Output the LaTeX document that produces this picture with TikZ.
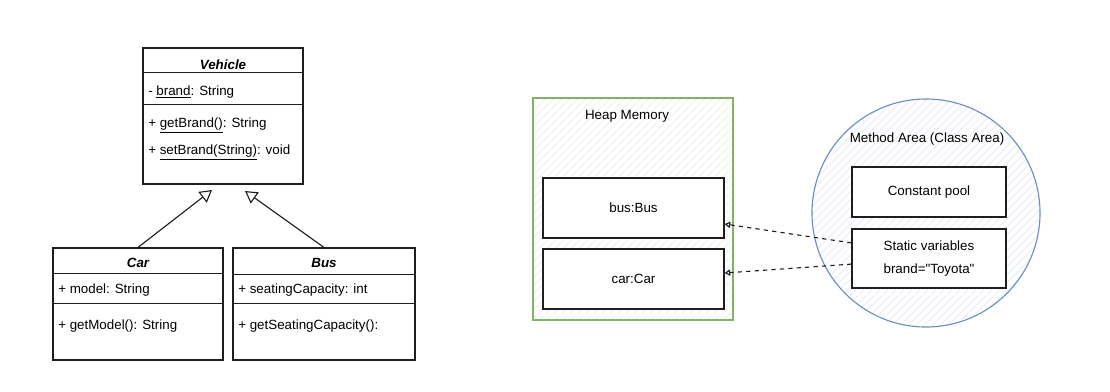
\documentclass[tikz,border=0pt]{standalone}
\usepackage{fontspec}
\setmainfont{Liberation Sans}
\usepackage{tikz}
\usetikzlibrary{arrows.meta,positioning,patterns.meta}
\definecolor{heapgreen}{RGB}{130,179,102}
\definecolor{hatchgreen}{RGB}{214,232,206}
\definecolor{areablue}{RGB}{108,142,191}
\definecolor{hatchblue}{RGB}{204,218,238}
\definecolor{inkgray}{RGB}{30,30,30}
\tikzset{
  classbox/.style={draw=inkgray, thick, fill=white, inner sep=0pt},
  classname/.style={font=\fontsize{9.5}{11}\selectfont\bfseries\itshape, inner sep=0pt},
  member/.style={anchor=west, font=\fontsize{9.5}{11}\selectfont, inner sep=0pt},
  objbox/.style={draw=inkgray, thick, fill=white, align=center,
                 font=\fontsize{9.5}{11}\selectfont},
  region/.style={thick, pattern={Lines[angle=45,distance=4pt,line width=0.45pt]}},
  regionlabel/.style={font=\fontsize{9.5}{11}\selectfont, inner sep=0pt},
  inherit/.style={-{Triangle[open,length=3mm,width=3.4mm]}, thick, draw=inkgray},
  ref/.style={-{Triangle[open,length=1.4mm,width=1.6mm]}, dashed, thick, draw=inkgray}
}
\begin{document}
\begin{tikzpicture}[x=0.025cm, y=-0.025cm, node distance=0.30cm]
  \useasboundingbox (0,0) rectangle (1110,391);

  \node[classbox, minimum width=4cm, minimum height=3.4cm] (vehicle) at (223,116) {};
  \draw[thick, inkgray] ([yshift=-0.625cm]vehicle.north west) -- ([yshift=-0.625cm]vehicle.north east);
  \draw[thick, inkgray] ([yshift=-1.425cm]vehicle.north west) -- ([yshift=-1.425cm]vehicle.north east);
  \node[classname] (vehicleName) at (223,65) {Vehicle};
  \node[member] (vehicleAttr) at (148,92) {- \underline{brand}: String};
  \node[member] (vehicleGet) at (148,125) {+ \underline{getBrand()}: String};
  \node[member] (vehicleSet) at (148,152) {+ \underline{setBrand(String)}: void};

  \node[classbox, minimum width=4.25cm, minimum height=2.8cm] (car) at (138,304) {};
  \draw[thick, inkgray] ([yshift=-0.65cm]car.north west) -- ([yshift=-0.65cm]car.north east);
  \draw[thick, inkgray] ([yshift=-1.4cm]car.north west) -- ([yshift=-1.4cm]car.north east);
  \node[classname] (carName) at (138,263) {Car};
  \node[member] (carAttr) at (58,290) {+ model: String};
  \node[member] (carGet) at (58,326) {+ getModel(): String};

  \node[classbox, minimum width=4.55cm, minimum height=2.8cm] (bus) at (324,304) {};
  \draw[thick, inkgray] ([yshift=-0.675cm]bus.north west) -- ([yshift=-0.675cm]bus.north east);
  \draw[thick, inkgray] ([yshift=-1.4cm]bus.north west) -- ([yshift=-1.4cm]bus.north east);
  \node[classname] (busName) at (324,263) {Bus};
  \node[member] (busAttr) at (238,290) {+ seatingCapacity: int};
  \node[member] (busGet) at (238,326) {+ getSeatingCapacity():};

  \coordinate (carTip) at (212,190);
  \coordinate (busTip) at (245,191);
  \draw[inherit] (car.north) -- (carTip);
  \draw[inherit] (bus.north) -- (busTip);

  \node[region, draw=heapgreen, pattern color=hatchgreen,
        minimum width=5cm, minimum height=5.55cm] (heap) at (633,209) {};
  \node[regionlabel] (heapLabel) at (627,116) {Heap Memory};
  \node[objbox, minimum width=4.525cm, minimum height=1.5cm] (busObj) at (633.5,208) {bus:Bus};
  \node[objbox, minimum width=4.525cm, minimum height=1.5cm] (carObj) at (633.5,279) {car:Car};

  \node[region, circle, draw=areablue, pattern color=hatchblue,
        minimum size=5.7cm] (method) at (926,213) {};
  \node[regionlabel] (methodLabel) at (927,139) {Method Area (Class Area)};
  \node[objbox, minimum width=3.85cm, minimum height=1.25cm] (pool) at (929,192) {Constant pool};
  \node[objbox, minimum width=3.85cm, minimum height=1.475cm] (static) at (929,258.5)
    {Static variables\\[5pt]brand=\textquotedbl Toyota\textquotedbl};

  \draw[ref] ([yshift=0.39cm]static.west) -- ([yshift=-0.4cm]busObj.east);
  \draw[ref] ([yshift=-0.14cm]static.west) -- ([yshift=0.15cm]carObj.east);
\end{tikzpicture}
\end{document}
